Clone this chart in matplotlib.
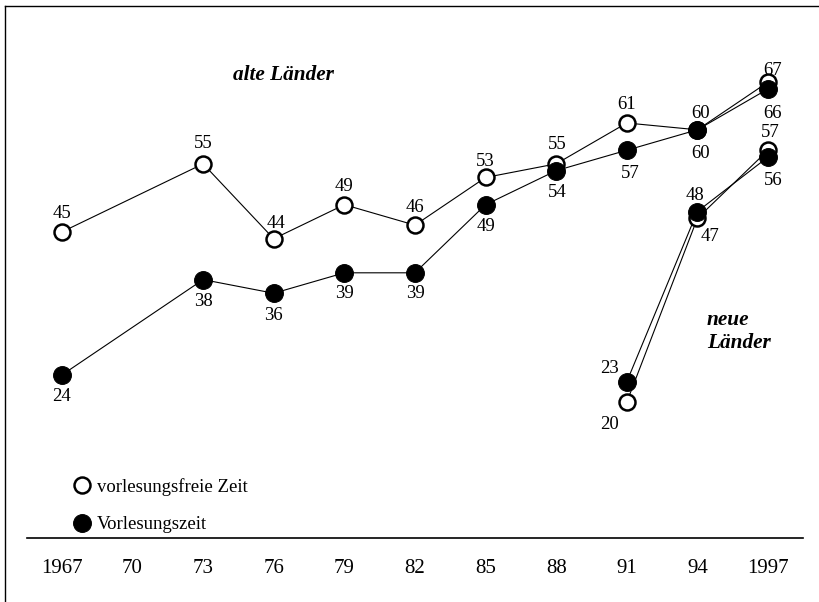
import matplotlib
matplotlib.use('Agg')
import matplotlib.pyplot as plt
from matplotlib.lines import Line2D

# Jahre (x-Achse)
tick_years = [1967, 1970, 1973, 1976, 1979, 1982, 1985, 1988, 1991, 1994, 1997]
tick_labels = ['1967', '70', '73', '76', '79', '82', '85', '88', '91', '94', '1997']

# alte Laender
alt_years = [1967, 1973, 1976, 1979, 1982, 1985, 1988, 1991, 1994, 1997]
alt_frei = [45, 55, 44, 49, 46, 53, 55, 61, 60, 67]
alt_vorl = [24, 38, 36, 39, 39, 49, 54, 57, 60, 66]

# neue Laender
neu_years = [1991, 1994, 1997]
neu_frei = [20, 47, 57]
neu_vorl = [23, 48, 56]

# label offsets in pixels (dx, dy), dy positive = up
alt_frei_off = [(0, 20), (0, 22), (2, 17), (0, 20), (0, 20), (0, 18), (1, 21), (0, 20), (3, 18), (5, 14)]
alt_vorl_off = [(0, -20), (0, -20), (0, -20), (0, -19), (0, -19), (0, -20), (1, -20), (3, -21), (3, -22), (5, -23)]
neu_frei_off = [(-17, -20), (13, -16), (2, 20)]
neu_vorl_off = [(-17, 15), (-2, 18), (5, -21)]

plt.rcParams['font.family'] = ['Liberation Serif', 'DejaVu Serif']

fig = plt.figure(figsize=(8.2, 6.02), dpi=100)
ax = fig.add_axes([0, 0, 1, 1])
ax.set_xlim(1964.37, 1999.21)
ax.set_ylim(-9.34, 79.06)
ax.axis('off')

px = 72 / 100.0  # pixel -> points

lw = 0.8
ax.plot(alt_years, alt_frei, color='black', lw=lw, zorder=1)
ax.plot(alt_years, alt_vorl, color='black', lw=lw, zorder=1)
ax.plot(neu_years, neu_frei, color='black', lw=lw, zorder=1)
ax.plot(neu_years, neu_vorl, color='black', lw=lw, zorder=1)

open_kw = dict(ls='none', marker='o', ms=11.5, mfc='white', mec='black', mew=1.8, zorder=2)
fill_kw = dict(ls='none', marker='o', ms=12.8, mfc='black', mec='black', mew=0.8, zorder=3)
ax.plot(alt_years, alt_frei, **open_kw)
ax.plot(neu_years, neu_frei, **open_kw)
ax.plot(alt_years, alt_vorl, **fill_kw)
ax.plot(neu_years, neu_vorl, **fill_kw)

fs = 13.5
def labels(xs, ys, offs):
    for x, y, (dx, dy) in zip(xs, ys, offs):
        ax.annotate(str(y), (x, y), xytext=(dx * px, dy * px), textcoords='offset points',
                    ha='center', va='center_baseline', fontsize=fs, zorder=4)

labels(alt_years, alt_frei, alt_frei_off)
labels(alt_years, alt_vorl, alt_vorl_off)
labels(neu_years, neu_frei, neu_frei_off)
labels(neu_years, neu_vorl, neu_vorl_off)

# Region labels
region_kw = dict(fontsize=15.3, fontweight='bold', fontstyle='italic', va='center_baseline')
ax.text(1976.4, 68.4, 'alte Länder', ha='center', **region_kw)
ax.text(1994.4, 32.4, 'neue', ha='left', **region_kw)
ax.text(1994.4, 29.0, 'Länder', ha='left', **region_kw)

# Legend
ax.plot([1967.85], [7.8], **open_kw)
ax.plot([1967.85], [2.3], **fill_kw)
ax.text(1968.5, 7.8, 'vorlesungsfreie Zeit', ha='left', va='center_baseline', fontsize=13.5)
ax.text(1968.5, 2.3, 'Vorlesungszeit', ha='left', va='center_baseline', fontsize=13.5)

# Baseline and year labels
ax.plot([1965.51, 1998.49], [0, 0], color='black', lw=1.2, zorder=1)
for x, t in zip(tick_years, tick_labels):
    ax.text(x, -4.05, t, ha='center', va='center_baseline', fontsize=15)

# Frame (left and top)
fig.add_artist(Line2D([5 / 820, 5 / 820], [0, 1 - 6 / 602], transform=fig.transFigure,
                      color='black', lw=1.0))
fig.add_artist(Line2D([5 / 820, 818 / 820], [1 - 6 / 602, 1 - 6 / 602], transform=fig.transFigure,
                      color='black', lw=1.0))

fig.savefig('out.png', dpi=100)
